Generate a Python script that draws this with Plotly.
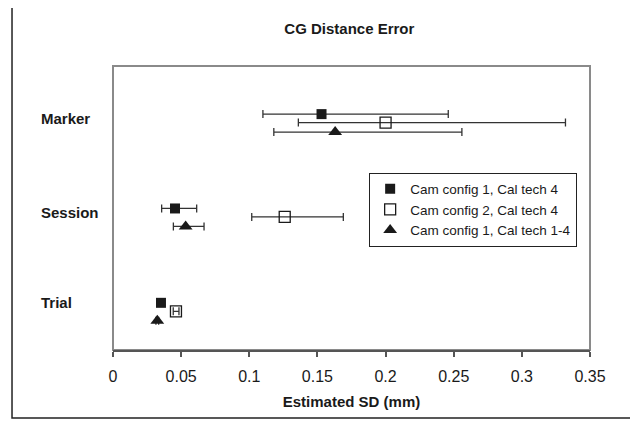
import plotly.graph_objects as go

# rows from top to bottom
categories = ["Marker", "Session", "Trial"]

series_names = ["Cam config 1, Cal tech 4", "Cam config 2, Cal tech 4", "Cam config 1, Cal tech 1-4"]

# estimated SD (mm) and its lower / upper limits, per row
cc1_ct4 = [0.153, 0.0455, 0.0352]
cc1_ct4_lo = [0.110, 0.0357, 0.0342]
cc1_ct4_hi = [0.246, 0.0614, 0.0362]

cc2_ct4 = [0.200, 0.126, 0.0462]
cc2_ct4_lo = [0.136, 0.1018, 0.0442]
cc2_ct4_hi = [0.332, 0.169, 0.0484]

cc1_ct14 = [0.163, 0.0533, 0.0325]
cc1_ct14_lo = [0.118, 0.0443, 0.0315]
cc1_ct14_hi = [0.256, 0.0668, 0.0335]

FONT = "Liberation Sans, Arial, Helvetica, sans-serif"
INK = "#1a1a1a"

# category rows sit at 3, 2, 1; the series are staggered a little under each row
row_y = [len(categories) - i for i in range(len(categories))]
offsets = [0.0, -0.09, -0.19]

series = [
    (cc1_ct4, cc1_ct4_lo, cc1_ct4_hi, dict(symbol="square", size=10, color=INK)),
    (cc2_ct4, cc2_ct4_lo, cc2_ct4_hi, dict(symbol="square-open", size=11, color=INK, line=dict(width=1.3))),
    (cc1_ct14, cc1_ct14_lo, cc1_ct14_hi, dict(symbol="triangle-up", size=12, color=INK)),
]

fig = go.Figure()
for name, (xv, lo, hi, mk), off in zip(series_names, series, offsets):
    fig.add_trace(go.Scatter(
        x=xv,
        y=[r + off for r in row_y],
        mode="markers",
        name=name,
        marker=mk,
        error_x=dict(type="data", symmetric=False,
                     array=[h - v for h, v in zip(hi, xv)],
                     arrayminus=[v - l for v, l in zip(xv, lo)],
                     color="#333333", thickness=1.3, width=4),
    ))

# row labels (left aligned text boxes, like the original)
label_y = [2.95, 1.96, 1.0]
for lab, yy in zip(categories, label_y):
    fig.add_annotation(text="<b>%s</b>" % lab, x=-0.155, y=yy, xref="paper", yref="y",
                       xanchor="left", yanchor="middle", showarrow=False,
                       font=dict(family=FONT, size=15, color=INK))

# plot area frame + outer chart frame
fig.add_shape(type="rect", xref="paper", yref="paper", x0=0, y0=0, x1=1, y1=1,
              line=dict(color="#8a8a8a", width=2), layer="below")
fig.add_shape(type="rect", xref="paper", yref="paper", x0=-0.2117, y0=-0.2395, x1=1.09, y1=1.2077,
              line=dict(color="#222222", width=1.5))

# page body has an 8px margin, so the margins are pulled in by 8px
fig.update_layout(
    width=638, height=424,
    margin=dict(l=105, r=56, t=58, b=82),
    paper_bgcolor="white", plot_bgcolor="white",
    font=dict(family=FONT, size=15, color=INK),
    title=dict(text="<b>CG Distance Error</b>", x=0.535, xanchor="center", y=0.95, yanchor="middle",
               font=dict(family=FONT, size=15, color=INK)),
    showlegend=True,
    legend=dict(x=0.537, y=0.625, xanchor="left", yanchor="top",
                bgcolor="white", bordercolor="#222222", borderwidth=1,
                font=dict(family=FONT, size=13.5, color=INK),
                itemwidth=30, tracegroupgap=0),
    xaxis=dict(range=[0, 0.35], dtick=0.05, tickformat="~g",
               showgrid=False, zeroline=False,
               showline=True, linecolor="#555555", linewidth=2,
               ticks="outside", ticklen=5, tickwidth=1.5, tickcolor="#555555",
               ticklabelstandoff=6,
               tickfont=dict(size=16, color=INK),
               title=dict(text="<b>Estimated SD (mm)</b>", standoff=12,
                          font=dict(size=15, color=INK))),
    yaxis=dict(range=[0.5, 3.51], showgrid=False, zeroline=False,
               showticklabels=False, ticks="", showline=False),
)

fig.write_html("out.html")
